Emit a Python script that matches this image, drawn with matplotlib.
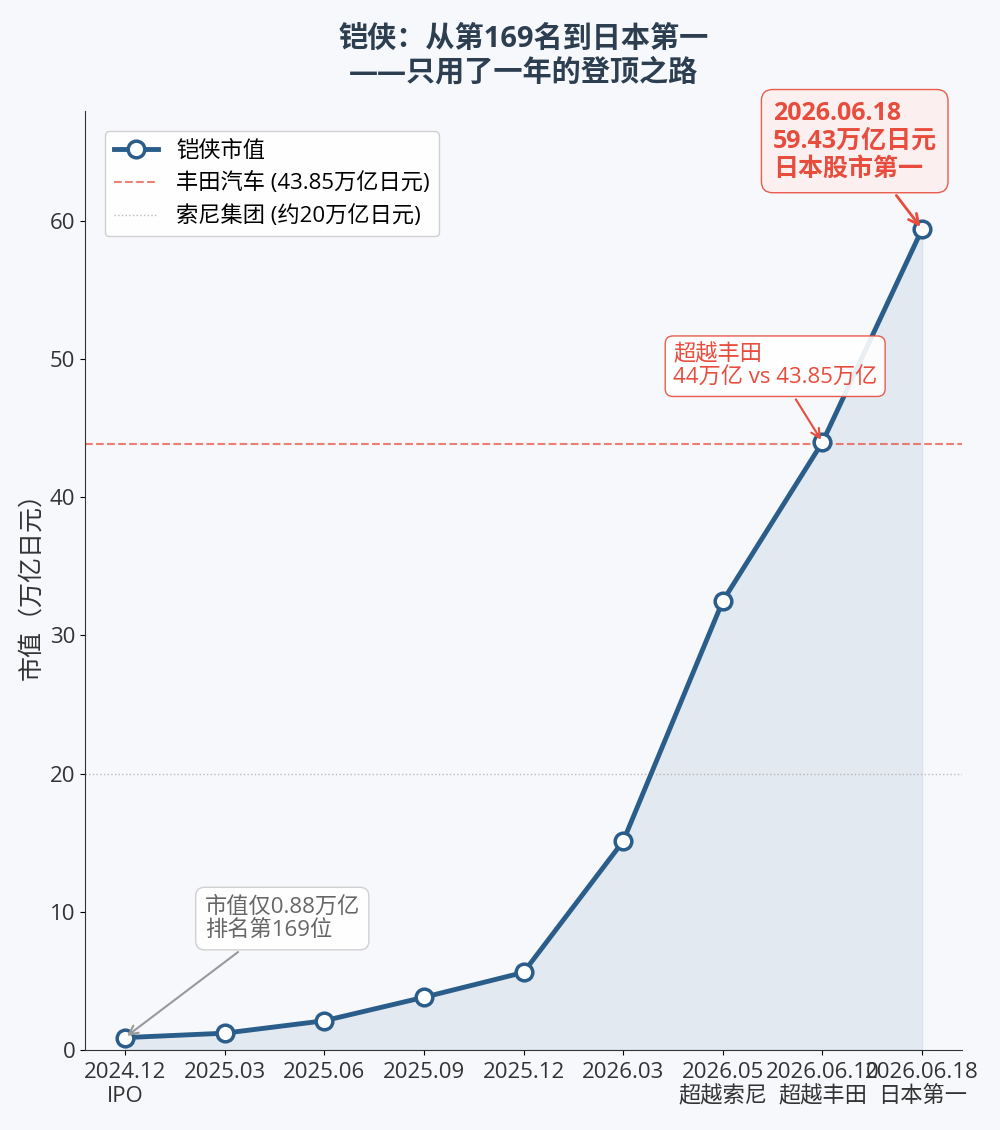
import numpy as np
import matplotlib
matplotlib.use('Agg')
from matplotlib import pyplot as plt

plt.rcParams['font.family'] = ['Open Sans', 'Noto Sans CJK SC', 'DejaVu Sans']
plt.rcParams['axes.unicode_minus'] = False

# data
labels = ['2024.12\nIPO', '2025.03', '2025.06', '2025.09', '2025.12',
          '2026.03', '2026.05\n超越索尼', '2026.06.10\n超越丰田', '2026.06.18\n日本第一']
values = [0.88, 1.2, 2.1, 3.8, 5.6, 15.1, 32.5, 44.0, 59.43]
toyota = 43.85
sony = 20

bg = '#f6f8fb'
blue = '#2b5d8a'
red = '#e74c3c'

x = np.arange(len(values))

fig = plt.figure(figsize=(10, 11.3), dpi=100, facecolor=bg)
ax = fig.add_axes([0.085, 0.071, 0.877, 0.831])
ax.set_facecolor(bg)

ax.fill_between(x, values, 0, color='#c8d3e0', alpha=0.4, zorder=1)
ax.plot(x, values, '-o', color=blue, linewidth=3.5, markersize=12,
        markerfacecolor='white', markeredgecolor=blue, markeredgewidth=2.5,
        label='铠侠市值', zorder=3)
ax.axhline(toyota, color=red, linestyle='--', linewidth=1.5, alpha=0.7,
           label='丰田汽车 (43.85万亿日元)', zorder=2)
ax.axhline(sony, color='#aaaaaa', linestyle=':', linewidth=1, alpha=0.8,
           label='索尼集团 (约20万亿日元)', zorder=2)

ax.annotate('市值仅0.88万亿\n排名第169位', xy=(0, values[0]), xytext=(0.8, 9.5),
            fontsize=16, color='#666666', ha='left', va='center', linespacing=1.15,
            bbox=dict(boxstyle='round,pad=0.4', fc='white', ec='#cccccc', alpha=0.9),
            arrowprops=dict(arrowstyle='->', color='#999999', lw=1.5))
ax.annotate('超越丰田\n44万亿 vs 43.85万亿', xy=(7, values[7]), xytext=(5.5, 49.5),
            fontsize=16, color=red, ha='left', va='center', linespacing=1.15,
            bbox=dict(boxstyle='round,pad=0.35', fc='white', ec=red, alpha=0.9),
            arrowprops=dict(arrowstyle='->', color=red, lw=1.5))
ax.annotate('2026.06.18\n59.43万亿日元\n日本股市第一', xy=(8, values[8]), xytext=(6.5, 65.8),
            fontsize=18, fontweight='bold', color=red, ha='left', va='center',
            linespacing=1.15,
            bbox=dict(boxstyle='round,pad=0.45', fc='#fdeeee', ec=red, alpha=0.9),
            arrowprops=dict(arrowstyle='->', color=red, lw=2))

ax.set_xticks(x)
ax.set_xticklabels(labels, fontsize=16, color='#333333')
ax.tick_params(axis='y', labelsize=16, labelcolor='#333333')
ax.tick_params(axis='x', pad=5)
ax.set_xlim(-0.4, 8.4)
ax.set_ylim(0, 68)
ax.set_ylabel('市值（万亿日元）', fontsize=18, color='#333333')
ax.set_title('铠侠：从第169名到日本第一\n——只用了一年的登顶之路',
             fontsize=21, fontweight='bold', color='#2c3e50', pad=22)
ax.spines['top'].set_visible(False)
ax.spines['right'].set_visible(False)
ax.spines['left'].set_color('#333333')
ax.spines['bottom'].set_color('#333333')

leg = ax.legend(loc='upper left', fontsize=16, framealpha=0.9, edgecolor='#cccccc',
                bbox_to_anchor=(0.01, 0.99))

plt.savefig('out.png', dpi=100, facecolor=bg)
